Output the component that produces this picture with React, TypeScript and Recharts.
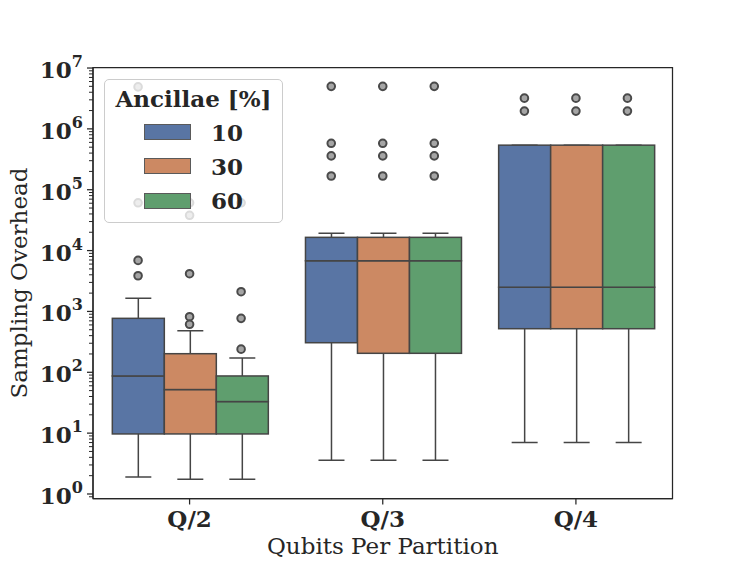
import React from 'react';
import { ComposedChart, Bar, Scatter, XAxis, YAxis, Legend, ReferenceArea } from 'recharts';

const categories = ['Q/2', 'Q/3', 'Q/4'];
const hues = ['10', '30', '60'];
const hueColors = ['#5975a4', '#cc8963', '#5f9e6e'];

// each array: [category][hue]
const whiskerLow = [
  [1.9, 1.75, 1.75],
  [3.6, 3.6, 3.6],
  [7.0, 7.0, 7.0],
];
const q1 = [
  [9.7, 9.7, 9.7],
  [306, 205, 205],
  [520, 520, 520],
];
const median = [
  [87, 52, 33],
  [6800, 6800, 6800],
  [2500, 2500, 2500],
];
const q3 = [
  [770, 202, 87],
  [16500, 16500, 16500],
  [540000, 540000, 540000],
];
const whiskerHigh = [
  [1640, 480, 172],
  [19200, 19200, 19200],
  [540000, 540000, 540000],
];
const outliers = [
  [
    [4.9e6, 6.1e4, 6900, 3860],
    [6.1e4, 3.8e4, 4170, 820, 615],
    [6.1e4, 2110, 770, 240],
  ],
  [
    [5.0e6, 5.8e5, 3.6e5, 1.68e5],
    [5.0e6, 5.8e5, 3.6e5, 1.68e5],
    [5.0e6, 5.8e5, 3.6e5, 1.68e5],
  ],
  [
    [3.2e6, 1.96e6],
    [3.2e6, 1.96e6],
    [3.2e6, 1.96e6],
  ],
];

const decades = [0, 1, 2, 3, 4, 5, 6, 7];
const minorSteps = [2, 3, 4, 5, 6, 7, 8, 9];
const yDomain = [0.843, 1.02e7];

const ink = '#262626';
const edge = '#454545';
const font = '"DejaVu Serif", serif';
const fontSize = 23;

const yTicks = [
  ...decades.map((d) => Math.pow(10, d)),
  ...[-1, ...decades].flatMap((d) => minorSteps.map((m) => m * Math.pow(10, d))),
]
  .filter((v) => v >= yDomain[0] && v <= yDomain[1])
  .sort((a, b) => a - b);

const rows = categories.map((cat, i) => {
  const row: Record<string, any> = { cat };
  hues.forEach((_, j) => {
    row[`whisk${j}`] = [whiskerLow[i][j], whiskerHigh[i][j]];
    row[`bot${j}`] = [q1[i][j], median[i][j]];
    row[`top${j}`] = [median[i][j], q3[i][j]];
  });
  return row;
});

const flierData = hues.map((_, j) =>
  categories.flatMap((_, i) =>
    outliers[i][j].map((v) => ({ x: i + ((j - 1) * 0.8) / 3, y: v }))
  )
);

function YTick({ x, y, payload }: any) {
  const lg = Math.log10(payload.value);
  const exp = Math.round(lg);
  const major = Math.abs(lg - exp) < 1e-6;
  return (
    <g>
      <line x1={x - (major ? 6 : 4)} x2={x} y1={y} y2={y} stroke={ink} strokeWidth={major ? 1.25 : 1} />
      {major && (
        <text x={x - 10} y={y} dy={10} textAnchor="end" fill={ink} fontFamily={font} fontWeight="bold" fontSize={fontSize}>
          10
          <tspan dy={-11} fontSize={16}>
            {exp}
          </tspan>
        </text>
      )}
    </g>
  );
}

function XTick({ x, y, payload }: any) {
  return (
    <g>
      <line x1={x} x2={x} y1={y} y2={y + 6} stroke={ink} strokeWidth={1.25} />
      <text x={x} y={y + 28} textAnchor="middle" fill={ink} fontFamily={font} fontWeight="bold" fontSize={fontSize}>
        {payload.value}
      </text>
    </g>
  );
}

const WhiskerShape = (p: any) => {
  const cx = p.x + p.width / 2;
  const cap = p.width / 4;
  const y2 = p.y + p.height;
  return (
    <g stroke={edge} strokeWidth={1.5}>
      <line x1={cx} x2={cx} y1={p.y} y2={y2} />
      <line x1={cx - cap} x2={cx + cap} y1={p.y} y2={p.y} />
      <line x1={cx - cap} x2={cx + cap} y1={y2} y2={y2} />
    </g>
  );
};

const BoxShape = (p: any) => (
  <rect x={p.x} y={p.y} width={p.width} height={p.height} fill={p.fill} stroke={edge} strokeWidth={1.5} />
);

const FlierShape = (p: any) => (
  <circle cx={p.cx} cy={p.cy} r={3.8} fill="#a5a5a5" stroke="#4a4a4a" strokeWidth={2} />
);

function LegendBox() {
  return (
    <div
      style={{
        position: 'relative',
        width: 179,
        height: 144,
        boxSizing: 'border-box',
        border: '1.5px solid #cccccc',
        borderRadius: 5,
        background: 'rgba(255,255,255,0.8)',
        fontFamily: font,
        fontWeight: 'bold',
        fontSize,
        lineHeight: `${fontSize}px`,
        color: ink,
        whiteSpace: 'nowrap',
      }}
    >
      <div style={{ position: 'absolute', left: 0, right: 0, top: 6.8, textAlign: 'center' }}>Ancillae [%]</div>
      {hues.map((h, j) => (
        <React.Fragment key={h}>
          <div
            style={{
              position: 'absolute',
              left: 39,
              top: 43.8 + j * 34.4,
              width: 47,
              height: 16,
              boxSizing: 'border-box',
              background: hueColors[j],
              border: '1px solid #5a5a5a',
            }}
          />
          <div style={{ position: 'absolute', left: 106, top: 40.6 + j * 34.4 }}>{h}</div>
        </React.Fragment>
      ))}
    </div>
  );
}

export default function App() {
  return (
    <div style={{ position: 'absolute', left: 0, top: 0, background: '#fff' }}>
      <ComposedChart
        width={747}
        height={561}
        data={rows}
        margin={{ top: 67.5, right: 74.5, bottom: 0, left: 0 }}
        barCategoryGap="10%"
        barGap={0}
      >
        <XAxis
          dataKey="cat"
          type="category"
          height={62.5}
          axisLine={{ stroke: ink, strokeWidth: 1.25 }}
          tickLine={false}
          tickSize={0}
          tickMargin={0}
          tick={<XTick />}
          label={{
            content: ({ viewBox }: any) => (
              <text
                x={viewBox.x + viewBox.width / 2}
                y={viewBox.y + 55}
                textAnchor="middle"
                fill={ink}
                fontFamily={font}
                fontSize={fontSize}
              >
                Qubits Per Partition
              </text>
            ),
          }}
        />
        <XAxis xAxisId="upper" dataKey="cat" type="category" hide />
        <XAxis xAxisId="whisker" dataKey="cat" type="category" hide />
        <XAxis xAxisId="num" dataKey="x" type="number" domain={[-0.5, 2.5]} allowDataOverflow hide />
        <YAxis
          type="number"
          scale="log"
          domain={yDomain}
          allowDataOverflow
          ticks={yTicks}
          interval={0}
          width={93}
          axisLine={{ stroke: ink, strokeWidth: 1.25 }}
          tickLine={false}
          tickSize={0}
          tickMargin={0}
          tick={<YTick />}
          label={{
            content: ({ viewBox }: any) => {
              const cx = viewBox.x + 27;
              const cy = viewBox.y + viewBox.height / 2;
              return (
                <text
                  x={cx}
                  y={cy}
                  transform={`rotate(-90 ${cx} ${cy})`}
                  textAnchor="middle"
                  fill={ink}
                  fontFamily={font}
                  fontSize={fontSize}
                >
                  Sampling Overhead
                </text>
              );
            },
          }}
        />
        <ReferenceArea
          xAxisId="num"
          x1={-0.5}
          x2={2.5}
          y1={yDomain[0]}
          y2={yDomain[1]}
          fill="none"
          fillOpacity={0}
          stroke={ink}
          strokeWidth={1.25}
          ifOverflow="visible"
        />
        {hues.map((h, j) => (
          <Bar
            key={`w${h}`}
            xAxisId="whisker"
            dataKey={`whisk${j}`}
            shape={WhiskerShape}
            isAnimationActive={false}
          />
        ))}
        {hues.map((h, j) => (
          <Bar
            key={`b${h}`}
            dataKey={`bot${j}`}
            fill={hueColors[j]}
            shape={BoxShape}
            isAnimationActive={false}
          />
        ))}
        {hues.map((h, j) => (
          <Bar
            key={`t${h}`}
            xAxisId="upper"
            dataKey={`top${j}`}
            fill={hueColors[j]}
            shape={BoxShape}
            isAnimationActive={false}
          />
        ))}
        {hues.map((h, j) => (
          <Scatter
            key={`f${h}`}
            xAxisId="num"
            data={flierData[j]}
            dataKey="y"
            shape={FlierShape}
            isAnimationActive={false}
          />
        ))}
        <Legend
          layout="vertical"
          align="center"
          verticalAlign="middle"
          wrapperStyle={{ left: 104, top: 79, width: 179, height: 144 }}
          content={() => <LegendBox />}
        />
      </ComposedChart>
    </div>
  );
}
